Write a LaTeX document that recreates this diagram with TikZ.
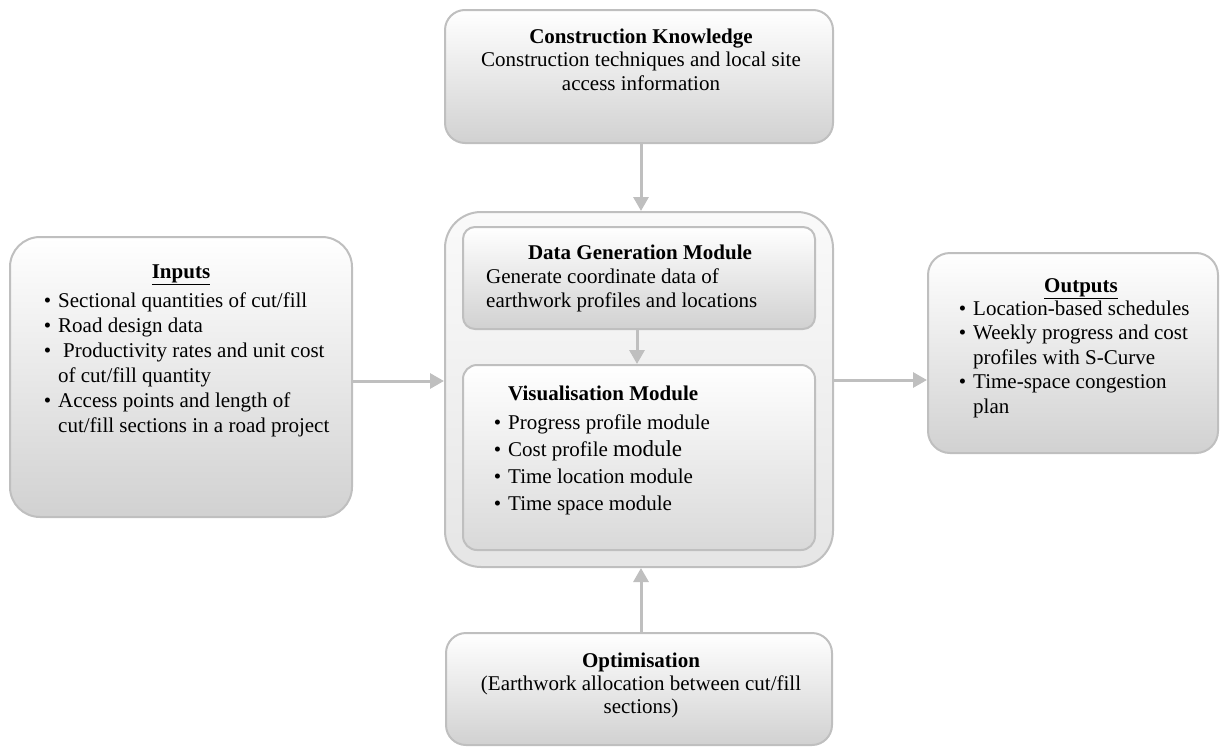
\documentclass[tikz,border=0pt]{standalone}
\usepackage{fontspec}
\setmainfont{Liberation Serif}
\usetikzlibrary{arrows.meta}
\definecolor{edge}{HTML}{BFBFBF}
\newcommand{\bul}{\llap{\textbullet\hspace{7pt}}}
\tikzset{
  box/.style={draw=edge, line width=2pt, rectangle, top color=white, bottom color=black!18, inner sep=0pt},
  lightbox/.style={draw=edge, line width=2pt, rectangle, top color=white, bottom color=black!10, inner sep=0pt},
  arr/.style={draw=edge, line width=3pt, -{Triangle[length=14pt,width=15pt]}},
  txt/.style={inner sep=0pt, font=\fontsize{21}{24.5}\selectfont},
}
\begin{document}
\begin{tikzpicture}[x=1pt,y=-1pt]
\useasboundingbox (0,0) rectangle (1221,747);
% boxes
\node[box, rounded corners=20pt, minimum width=388pt, minimum height=133pt] (know) at (639,76.5) {};
\node[lightbox, rounded corners=36pt, top color=black!2, bottom color=black!10, minimum width=388pt, minimum height=355pt] (main) at (639,389.5) {};
\node[box, rounded corners=12pt, minimum width=352pt, minimum height=102pt] (dgm) at (639,278) {};
\node[box, rounded corners=14pt, top color=white, bottom color=black!15, minimum width=352pt, minimum height=185pt] (vis) at (639,457.5) {};
\node[box, rounded corners=30pt, minimum width=342pt, minimum height=280pt] (inputs) at (181,377) {};
\node[box, rounded corners=22pt, minimum width=290pt, minimum height=200pt] (outputs) at (1073,353) {};
\node[box, rounded corners=20pt, minimum width=386pt, minimum height=112pt] (opt) at (639,689) {};
% connectors
\draw[arr] ([xshift=2pt]know.south) -- ([xshift=2pt]main.north);
\draw[arr] ([xshift=-2pt]dgm.south) -- ([xshift=-2pt]vis.north);
\draw[arr] (inputs.east |- 0,381) -- (main.west |- 0,381);
\draw[arr] (main.east |- 0,380) -- (outputs.west |- 0,380);
\draw[arr] ([xshift=2pt]opt.north) -- ([xshift=2pt]main.south);
% texts (base anchor = baseline of the last line)
\node[txt, font=\fontsize{21}{23.5}\selectfont, anchor=base, align=center] (knowt) at (641,90)
  {\textbf{Construction Knowledge}\\Construction techniques and local site\\access information};
\node[txt, anchor=base] (dgmt) at (640,259) {\textbf{Data Generation Module}};
\node[txt, font=\fontsize{21}{24}\selectfont, anchor=base west, align=left] (dgmb) at (486,307)
  {Generate coordinate data of\\earthwork profiles and locations};
\node[txt, anchor=base west] (vist) at (508,400) {\textbf{Visualisation Module}};
\node[txt, font=\fontsize{21}{26.7}\selectfont, anchor=base west, align=left] (visb) at (508,510)
  {\bul Progress profile module\\\bul Cost profile {\fontsize{23}{26.7}\selectfont module}\\\bul Time location module\\\bul Time space module};
\node[txt, anchor=base] (inpt) at (181,278) {\underline{\textbf{Inputs}}};
\node[txt, font=\fontsize{21}{25}\selectfont, anchor=base west, align=left] (inpb) at (58,432)
  {\bul Sectional quantities of cut/fill\\\bul Road design data\\\bul\hspace{5pt}Productivity rates and unit cost\\of cut/fill quantity\\\bul Access points and length of\\cut/fill sections in a road project};
\node[txt, anchor=base] (outt) at (1081,292) {\underline{\textbf{Outputs}}};
\node[txt, font=\fontsize{21}{24.5}\selectfont, anchor=base west, align=left] (outb) at (973,413)
  {\bul Location-based schedules\\\bul Weekly progress and cost\\profiles with S-Curve\\\bul Time-space congestion\\plan};
\node[txt, font=\fontsize{21}{23}\selectfont, anchor=base, align=center] (optt) at (641,713)
  {\textbf{Optimisation}\\(Earthwork allocation between cut/fill\\sections)};
\end{tikzpicture}
\end{document}
